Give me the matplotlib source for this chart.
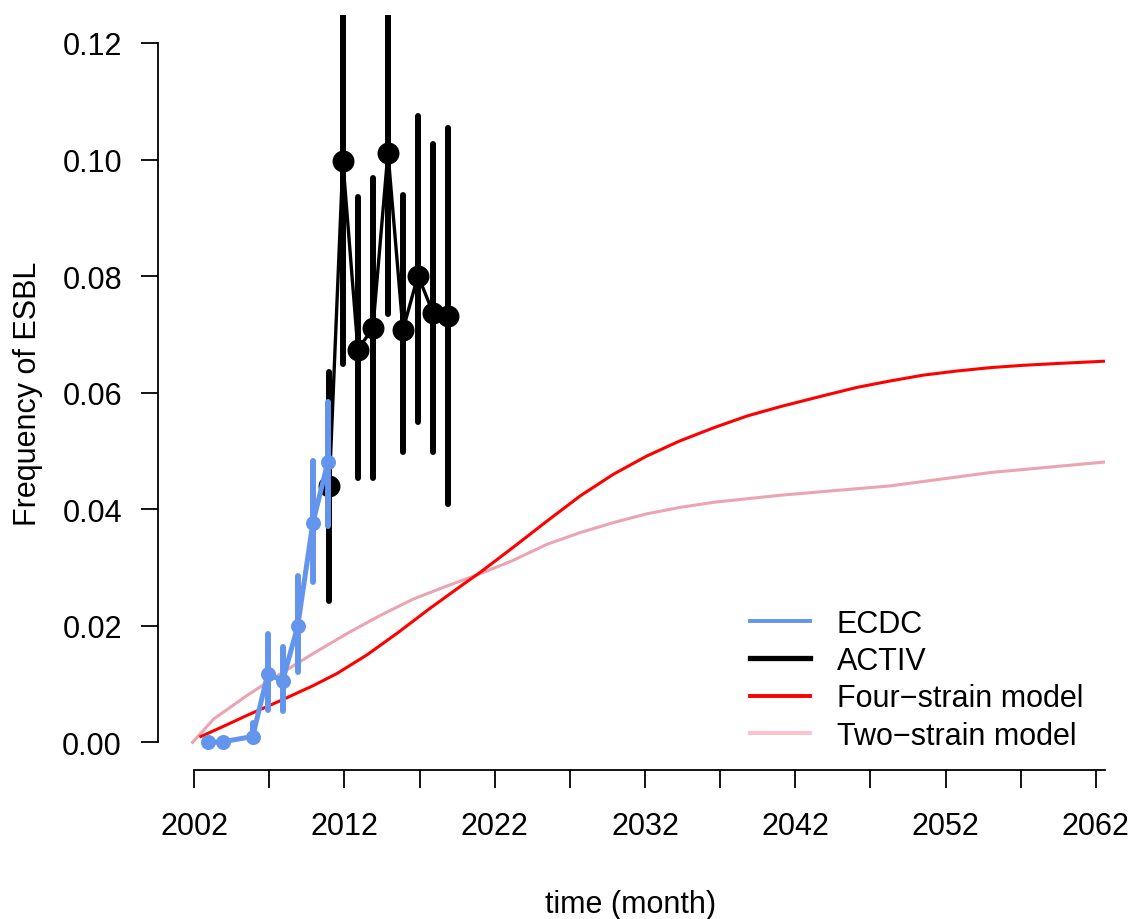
import matplotlib
matplotlib.use("Agg")
import matplotlib.pyplot as plt
from matplotlib.lines import Line2D

# ── Data ──────────────────────────────────────────────────────────────────────

# ECDC surveillance: yearly frequency with confidence bounds
ecdc_year = [2002.9, 2003.9, 2005.9, 2006.9, 2007.9, 2008.9, 2009.9, 2010.9]
ecdc_freq = [0.0000, 0.0001, 0.0010, 0.0117, 0.0106, 0.0200, 0.0376, 0.0481]
ecdc_lo   = [0.0000, 0.0000, 0.0000, 0.0056, 0.0054, 0.0120, 0.0275, 0.0371]
ecdc_hi   = [0.0003, 0.0004, 0.0034, 0.0186, 0.0164, 0.0285, 0.0483, 0.0584]

# ACTIV study
activ_year = [2011.0, 2011.9, 2012.9, 2013.9, 2014.9, 2015.9, 2016.9, 2017.9, 2018.9]
activ_freq = [0.0440, 0.0997, 0.0674, 0.0711, 0.1012, 0.0708, 0.0801, 0.0737, 0.0732]
activ_lo   = [0.0243, 0.0649, 0.0454, 0.0454, 0.0735, 0.0498, 0.0549, 0.0498, 0.0409]
activ_hi   = [0.0636, 0.1350, 0.0935, 0.0969, 0.1350, 0.0940, 0.1075, 0.1027, 0.1054]

# model trajectories
four_year = [2002.45, 2004.0, 2005.5, 2007.7, 2009.9, 2011.5, 2013.5, 2015.5, 2017.7,
             2019.9, 2021.0, 2023.2, 2025.5, 2027.7, 2029.9, 2032.1, 2034.3, 2036.6,
             2038.8, 2041.0, 2043.9, 2046.1, 2048.3, 2050.5, 2052.7, 2055.0, 2057.2,
             2059.4, 2062.6]
four_freq = [0.0010, 0.0028, 0.0046, 0.0071, 0.0097, 0.0118, 0.0150, 0.0187, 0.0230,
             0.0271, 0.0291, 0.0334, 0.0380, 0.0423, 0.0460, 0.0491, 0.0517, 0.0540,
             0.0560, 0.0576, 0.0595, 0.0609, 0.0620, 0.0630, 0.0637, 0.0643, 0.0647,
             0.0650, 0.0654]

two_year = [2001.9, 2003.3, 2005.5, 2007.7, 2009.9, 2012.2, 2014.4, 2016.6, 2018.8,
            2021.0, 2023.2, 2025.5, 2027.7, 2029.9, 2032.1, 2034.3, 2036.6, 2038.8,
            2041.0, 2048.3, 2055.0, 2062.6]
two_freq = [0.0000, 0.0040, 0.0080, 0.0117, 0.0152, 0.0187, 0.0218, 0.0246, 0.0268,
            0.0289, 0.0312, 0.0340, 0.0360, 0.0377, 0.0392, 0.0403, 0.0412, 0.0418,
            0.0424, 0.0440, 0.0463, 0.0481]

x_ticks = list(range(2002, 2063, 5))
y_ticks = [0.00, 0.02, 0.04, 0.06, 0.08, 0.10, 0.12]

ECDC_COLOR  = "#6495ED"
ACTIV_COLOR = "black"
FOUR_COLOR  = "red"
TWO_COLOR   = "#EBA4B1"
TWO_KEY     = "pink"

plt.rcParams.update({
    "font.family": ["Liberation Sans", "DejaVu Sans"],
    "font.size": 22,
})

fig = plt.figure(figsize=(11.31, 9.2), dpi=100)
ax = fig.add_axes([0.1393, 0.1616, 0.8373, 0.8210])

# ── Curves ────────────────────────────────────────────────────────────────────

ax.plot(two_year, two_freq, color=TWO_COLOR, lw=2.2, zorder=2)
ax.plot(four_year, four_freq, color=FOUR_COLOR, lw=2.2, zorder=2)

ax.vlines(activ_year, activ_lo, activ_hi, color=ACTIV_COLOR, lw=4.3,
          capstyle="round", zorder=3)
ax.plot(activ_year, activ_freq, color=ACTIV_COLOR, lw=2.4, marker="o", ms=15.8,
        mew=0, solid_joinstyle="round", zorder=3)

ax.vlines(ecdc_year, ecdc_lo, ecdc_hi, color=ECDC_COLOR, lw=4.3,
          capstyle="round", zorder=4)
ax.plot(ecdc_year, ecdc_freq, color=ECDC_COLOR, lw=3.6, marker="o", ms=10.8,
        mew=0, solid_joinstyle="round", zorder=4)

# ── Axes ──────────────────────────────────────────────────────────────────────

xmax = 2062.58
ax.set_xlim(1999.57, xmax)
ax.set_ylim(-0.0048, 0.1248)

for side in ("top", "right"):
    ax.spines[side].set_visible(False)
ax.spines["left"].set_bounds(0, 0.12)
ax.spines["bottom"].set_bounds(2002, xmax)
ax.spines["left"].set_linewidth(1.3)
ax.spines["bottom"].set_linewidth(1.3)

ax.set_xticks(x_ticks)
ax.set_xticklabels([str(t) if (t - 2002) % 10 == 0 else "" for t in x_ticks])
ax.set_yticks(y_ticks)
ax.set_yticklabels([f"{v:.2f}" for v in y_ticks])
ax.tick_params(direction="out", length=12.6, width=1.3, labelsize=22)
ax.tick_params(axis="x", pad=17)
ax.tick_params(axis="y", pad=13)

fig.text(631 / 1131, 1 - 905 / 920, "time (month)", ha="center", va="center", fontsize=22)
fig.text(28 / 1131, 1 - 393.5 / 920, "Frequency of ESBL", rotation=90,
         ha="center", va="center", fontsize=22)

# ── Legend ────────────────────────────────────────────────────────────────────

handles = [
    Line2D([], [], color=ECDC_COLOR, lw=2.8),
    Line2D([], [], color=ACTIV_COLOR, lw=3.8),
    Line2D([], [], color=FOUR_COLOR, lw=2.8),
    Line2D([], [], color=TWO_KEY, lw=2.8),
]
labels = ["ECDC", "ACTIV", "Four\u2212strain model", "Two\u2212strain model"]
ax.legend(handles, labels, loc="upper left", bbox_to_anchor=(750 / 1131, 1 - 610 / 920),
          bbox_transform=fig.transFigure, frameon=False, borderpad=0, borderaxespad=0,
          handlelength=1.96, handletextpad=0.88, labelspacing=0.235, fontsize=22)

fig.savefig("out.png", dpi=100)
